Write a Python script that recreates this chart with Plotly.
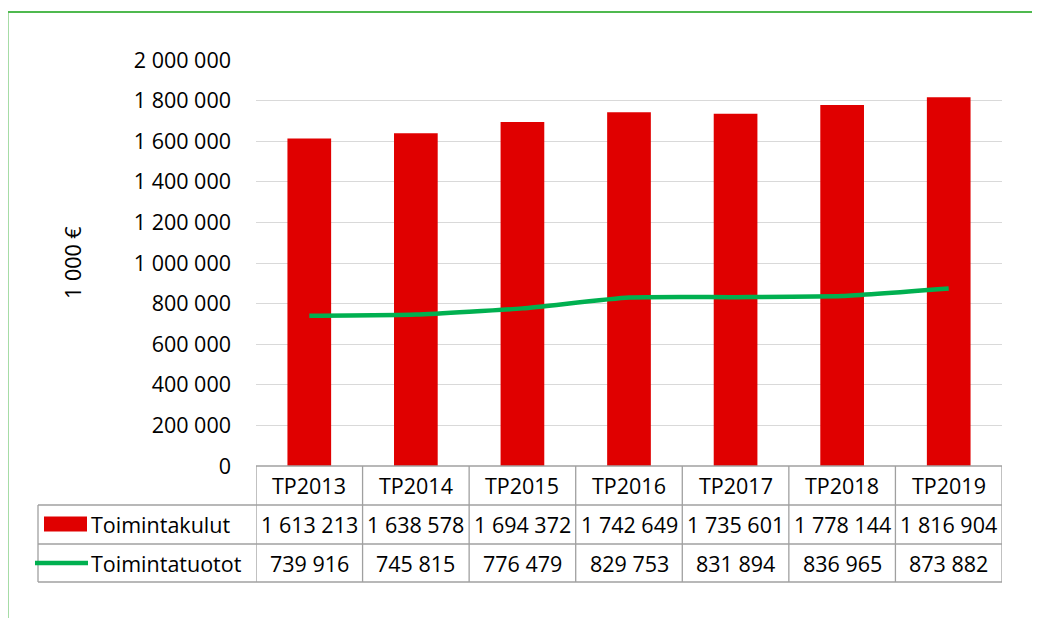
import plotly.graph_objects as go

categories = ["TP2013", "TP2014", "TP2015", "TP2016", "TP2017", "TP2018", "TP2019"]
kulut = [1613213, 1638578, 1694372, 1742649, 1735601, 1778144, 1816904]
tuotot = [739916, 745815, 776479, 829753, 831894, 836965, 873882]
series_names = ["Toimintakulut", "Toimintatuotot"]
y_title = "1 000 €"

RED = "#e00000"
GREEN = "#00b050"
GRID = "#d9d9d9"
TBL = "#a0a0a0"
FONT = "Open Sans"
FS = 21.5

OFF = 8  # page body margin
W, H = 1040 - OFF, 618 - OFF
# plot area in page pixels
L, R, T, B = 256, 1002, 60, 466


def xp(px):
    return (px - L) / (R - L)


def yp(py):
    return (B - py) / (B - T)


def fmt(v):
    return f"{v:,}".replace(",", " ")


fig = go.Figure()
fig.add_trace(go.Bar(x=categories, y=kulut, name=series_names[0],
                     marker=dict(color=RED, line=dict(width=0)), width=0.41))
fig.add_trace(go.Scatter(x=categories, y=tuotot, name=series_names[1], mode="lines",
                         line=dict(color=GREEN, width=4.5, shape="spline", smoothing=0.5)))

shapes = []
annotations = []

# green outer border (partially off-canvas)
shapes.append(dict(type="rect", xref="paper", yref="paper",
                   x0=xp(7.5), x1=xp(1060), y0=yp(12), y1=yp(640),
                   line=dict(color="#4fb94f", width=2), fillcolor="rgba(0,0,0,0)"))

# table geometry
row_y = [466, 505, 544, 582]
left_x = 38
n = len(categories)
shapes.append(dict(type="line", xref="x", yref="paper", x0=-0.5, x1=n - 0.5,
                   y0=yp(row_y[0]), y1=yp(row_y[0]), line=dict(color=TBL, width=1.3)))
for ry in row_y[1:]:
    shapes.append(dict(type="line", xref="paper", yref="paper", x0=xp(left_x), x1=1,
                       y0=yp(ry), y1=yp(ry), line=dict(color=TBL, width=1.3)))
for i in range(n + 1):
    shapes.append(dict(type="line", xref="x", yref="paper", x0=i - 0.5, x1=i - 0.5,
                       y0=yp(row_y[0]), y1=yp(row_y[3]), line=dict(color=TBL, width=1.3)))
shapes.append(dict(type="line", xref="paper", yref="paper", x0=xp(left_x), x1=xp(left_x),
                   y0=yp(row_y[1]), y1=yp(row_y[3]), line=dict(color=TBL, width=1.3)))

# legend keys
shapes.append(dict(type="rect", xref="paper", yref="paper", x0=xp(44), x1=xp(87),
                   y0=yp(531.5), y1=yp(516.5), fillcolor=RED, line=dict(width=0)))
shapes.append(dict(type="line", xref="paper", yref="paper", x0=xp(35), x1=xp(88),
                   y0=yp(563), y1=yp(563), line=dict(color=GREEN, width=4.5)))

centers = [(row_y[i] + row_y[i + 1]) / 2 for i in range(3)]
for j, name in enumerate(series_names):
    annotations.append(dict(text=name, xref="paper", yref="paper", x=xp(89), y=yp(centers[j + 1]),
                            xanchor="left", yanchor="middle", showarrow=False,
                            font=dict(family=FONT, size=FS, color="#000")))
for i, c in enumerate(categories):
    annotations.append(dict(text=c, xref="x", yref="paper", x=c, y=yp(centers[0]),
                            xanchor="center", yanchor="middle", showarrow=False,
                            font=dict(family=FONT, size=FS, color="#000")))
    annotations.append(dict(text=fmt(kulut[i]), xref="x", yref="paper", x=c, y=yp(centers[1]),
                            xanchor="center", yanchor="middle", showarrow=False,
                            font=dict(family=FONT, size=FS, color="#000")))
    annotations.append(dict(text=fmt(tuotot[i]), xref="x", yref="paper", x=c, y=yp(centers[2]),
                            xanchor="center", yanchor="middle", showarrow=False,
                            font=dict(family=FONT, size=FS, color="#000")))

annotations.append(dict(text=y_title, xref="paper", yref="paper", x=xp(72), y=yp(263),
                        xanchor="center", yanchor="middle", textangle=-90, showarrow=False,
                        font=dict(family=FONT, size=FS, color="#000")))

fig.update_layout(
    width=W, height=H,
    margin=dict(l=L - OFF, r=1040 - R, t=T - OFF, b=618 - B),
    paper_bgcolor="white", plot_bgcolor="white",
    showlegend=False,
    separators=", ",
    font=dict(family=FONT, size=FS, color="#000"),
    shapes=shapes, annotations=annotations,
)
fig.update_xaxes(showticklabels=False, showgrid=False, zeroline=False, showline=False,
                 range=[-0.5, n - 0.5])
fig.update_yaxes(range=[0, 2000000], dtick=200000, tickformat=",d", showgrid=True,
                 gridcolor=GRID, gridwidth=1.3, zeroline=False, showline=False,
                 ticklabelstandoff=24, tickfont=dict(family=FONT, size=FS, color="#000"))

fig.write_html("out.html")
